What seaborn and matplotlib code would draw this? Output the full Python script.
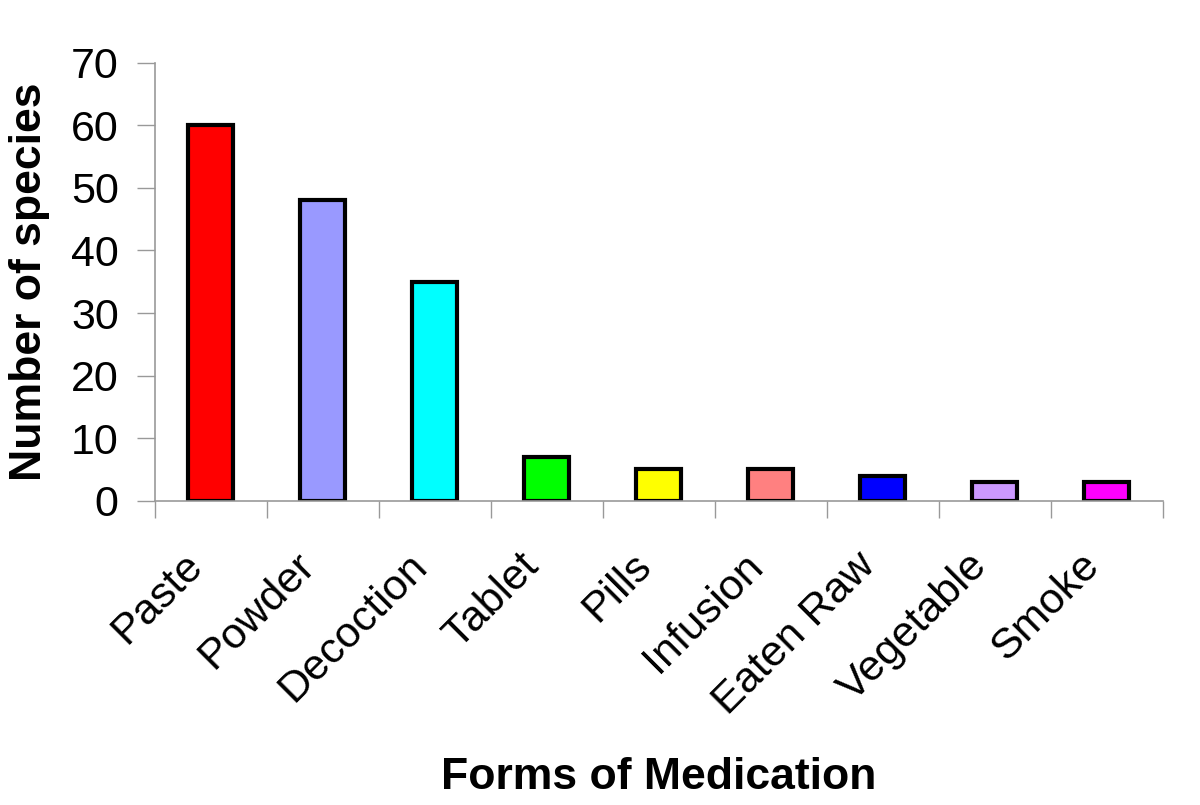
import pandas as pd
import seaborn as sns
import matplotlib.pyplot as plt
import matplotlib.transforms as mtransforms

forms = ['Paste', 'Powder', 'Decoction', 'Tablet', 'Pills', 'Infusion',
         'Eaten Raw', 'Vegetable', 'Smoke']
species = [60, 48, 35, 7, 5, 5, 4, 3, 3]
colors = ['#ff0000', '#9999ff', '#00ffff', '#00ff00', '#ffff00', '#ff8080',
          '#0000ff', '#cc99ff', '#ff00ff']

df = pd.DataFrame({'form': forms, 'count': species})

sns.set_style('white')
plt.rcParams['font.family'] = ['Liberation Sans', 'DejaVu Sans']
plt.rcParams['text.color'] = 'black'
plt.rcParams['axes.labelcolor'] = 'black'
plt.rcParams['xtick.labelcolor'] = 'black'
plt.rcParams['ytick.labelcolor'] = 'black'

fig = plt.figure(figsize=(12, 8.05), dpi=100)
ax = fig.add_axes([0.129, 0.378, 0.84, 0.544])

sns.barplot(data=df, x='form', y='count', hue='form', palette=colors,
            saturation=1, legend=False, width=0.4, edgecolor='black',
            linewidth=3, ax=ax)

ax.set_ylim(0, 70)
ax.set_xlim(-0.5, len(forms) - 0.5)
ax.set_yticks(range(0, 71, 10))
ax.tick_params(axis='y', labelsize=31, length=13, width=1, color='#999999',
               direction='out', left=True, pad=13)

# x ticks sit between categories
ax.set_xticks([i - 0.5 for i in range(len(forms) + 1)], minor=True)
ax.tick_params(axis='x', which='minor', length=12, width=1, color='#999999',
               direction='out', bottom=True)
ax.tick_params(axis='x', which='major', length=0, labelsize=31, pad=22)
ax.set_xticks(range(len(forms)))
ax.set_xticklabels(forms, rotation=45, ha='right', rotation_mode='anchor')
shift = mtransforms.ScaledTranslation(-0.28, -0.14, fig.dpi_scale_trans)
for lab in ax.get_xticklabels():
    lab.set_transform(lab.get_transform() + shift)

for side in ['top', 'right']:
    ax.spines[side].set_visible(False)
for side in ['left', 'bottom']:
    ax.spines[side].set_color('#999999')
    ax.spines[side].set_linewidth(1.2)

ax.set_ylabel('Number of species', fontsize=32, fontweight='bold')
ax.yaxis.set_label_coords(-0.104, 0.5)
ax.set_xlabel('Forms of Medication', fontsize=32, fontweight='bold')
ax.xaxis.set_label_coords(0.5, -0.585)

plt.savefig('out.png', dpi=100)
